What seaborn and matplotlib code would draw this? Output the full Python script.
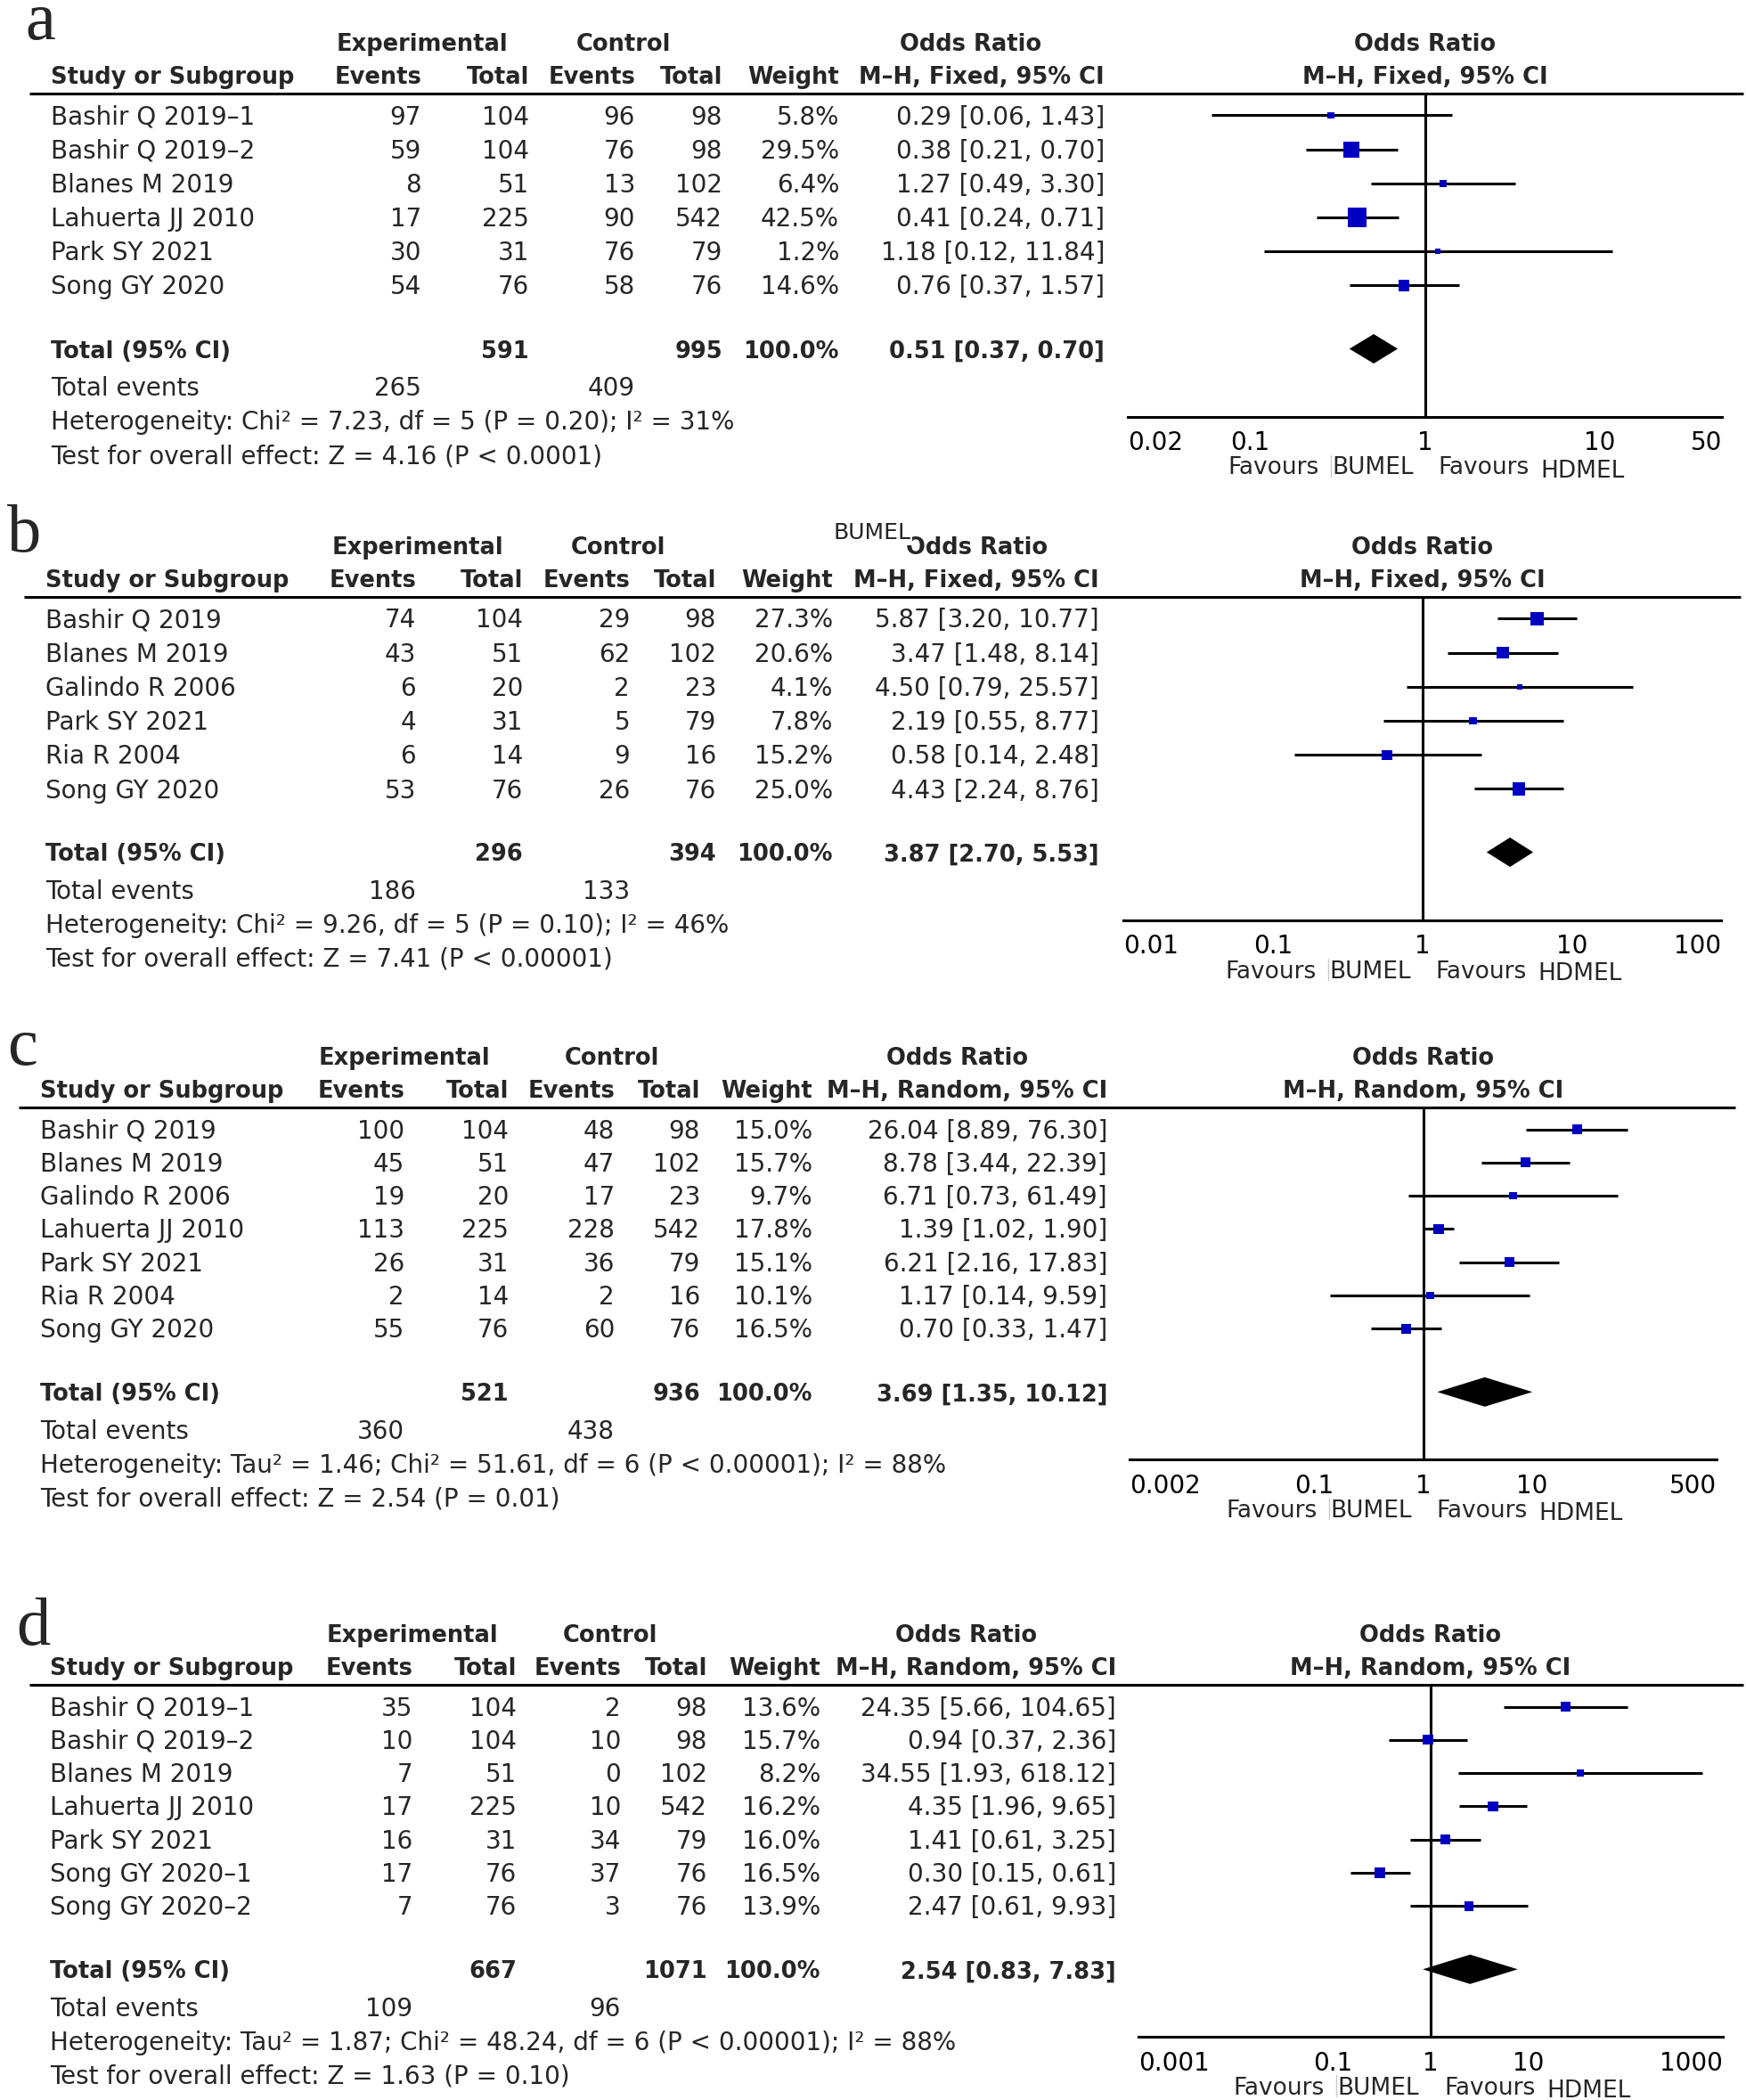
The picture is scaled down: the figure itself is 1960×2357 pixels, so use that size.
import numpy as np
import matplotlib
matplotlib.use("Agg")
import matplotlib.pyplot as plt
import seaborn as sns

# ---------------- data ----------------
# panel a
studies_a = ["Bashir Q 2019–1", "Bashir Q 2019–2", "Blanes M 2019", "Lahuerta JJ 2010", "Park SY 2021", "Song GY 2020"]
exp_ev_a = [97, 59, 8, 17, 30, 54]
exp_tot_a = [104, 104, 51, 225, 31, 76]
ctl_ev_a = [96, 76, 13, 90, 76, 58]
ctl_tot_a = [98, 98, 102, 542, 79, 76]
weight_a = [5.8, 29.5, 6.4, 42.5, 1.2, 14.6]
or_a = [0.29, 0.38, 1.27, 0.41, 1.18, 0.76]
lo_a = [0.06, 0.21, 0.49, 0.24, 0.12, 0.37]
hi_a = [1.43, 0.70, 3.30, 0.71, 11.84, 1.57]
tot_n_a = [591, 995]
tot_or_a = [0.51, 0.37, 0.70]
events_a = [265, 409]
het_a = "Heterogeneity: Chi² = 7.23, df = 5 (P = 0.20); I² = 31%"
test_a = "Test for overall effect: Z = 4.16 (P < 0.0001)"
ticks_a = [0.02, 0.1, 1, 10, 50]

# panel b
studies_b = ["Bashir Q 2019", "Blanes M 2019", "Galindo R 2006", "Park SY 2021", "Ria R 2004", "Song GY 2020"]
exp_ev_b = [74, 43, 6, 4, 6, 53]
exp_tot_b = [104, 51, 20, 31, 14, 76]
ctl_ev_b = [29, 62, 2, 5, 9, 26]
ctl_tot_b = [98, 102, 23, 79, 16, 76]
weight_b = [27.3, 20.6, 4.1, 7.8, 15.2, 25.0]
or_b = [5.87, 3.47, 4.50, 2.19, 0.58, 4.43]
lo_b = [3.20, 1.48, 0.79, 0.55, 0.14, 2.24]
hi_b = [10.77, 8.14, 25.57, 8.77, 2.48, 8.76]
tot_n_b = [296, 394]
tot_or_b = [3.87, 2.70, 5.53]
events_b = [186, 133]
het_b = "Heterogeneity: Chi² = 9.26, df = 5 (P = 0.10); I² = 46%"
test_b = "Test for overall effect: Z = 7.41 (P < 0.00001)"
ticks_b = [0.01, 0.1, 1, 10, 100]

# panel c
studies_c = ["Bashir Q 2019", "Blanes M 2019", "Galindo R 2006", "Lahuerta JJ 2010", "Park SY 2021", "Ria R 2004", "Song GY 2020"]
exp_ev_c = [100, 45, 19, 113, 26, 2, 55]
exp_tot_c = [104, 51, 20, 225, 31, 14, 76]
ctl_ev_c = [48, 47, 17, 228, 36, 2, 60]
ctl_tot_c = [98, 102, 23, 542, 79, 16, 76]
weight_c = [15.0, 15.7, 9.7, 17.8, 15.1, 10.1, 16.5]
or_c = [26.04, 8.78, 6.71, 1.39, 6.21, 1.17, 0.70]
lo_c = [8.89, 3.44, 0.73, 1.02, 2.16, 0.14, 0.33]
hi_c = [76.30, 22.39, 61.49, 1.90, 17.83, 9.59, 1.47]
tot_n_c = [521, 936]
tot_or_c = [3.69, 1.35, 10.12]
events_c = [360, 438]
het_c = "Heterogeneity: Tau² = 1.46; Chi² = 51.61, df = 6 (P < 0.00001); I² = 88%"
test_c = "Test for overall effect: Z = 2.54 (P = 0.01)"
ticks_c = [0.002, 0.1, 1, 10, 500]

# panel d
studies_d = ["Bashir Q 2019–1", "Bashir Q 2019–2", "Blanes M 2019", "Lahuerta JJ 2010", "Park SY 2021", "Song GY 2020–1", "Song GY 2020–2"]
exp_ev_d = [35, 10, 7, 17, 16, 17, 7]
exp_tot_d = [104, 104, 51, 225, 31, 76, 76]
ctl_ev_d = [2, 10, 0, 10, 34, 37, 3]
ctl_tot_d = [98, 98, 102, 542, 79, 76, 76]
weight_d = [13.6, 15.7, 8.2, 16.2, 16.0, 16.5, 13.9]
or_d = [24.35, 0.94, 34.55, 4.35, 1.41, 0.30, 2.47]
lo_d = [5.66, 0.37, 1.93, 1.96, 0.61, 0.15, 0.61]
hi_d = [104.65, 2.36, 618.12, 9.65, 3.25, 0.61, 9.93]
tot_n_d = [667, 1071]
tot_or_d = [2.54, 0.83, 7.83]
events_d = [109, 96]
het_d = "Heterogeneity: Tau² = 1.87; Chi² = 48.24, df = 6 (P < 0.00001); I² = 88%"
test_d = "Test for overall effect: Z = 1.63 (P = 0.10)"
ticks_d = [0.001, 0.1, 1, 10, 1000]

panels = [
    dict(tag="a", model="Fixed", study=studies_a, ee=exp_ev_a, et=exp_tot_a, ce=ctl_ev_a, ct=ctl_tot_a,
         w=weight_a, orr=or_a, lo=lo_a, hi=hi_a, tot=tot_n_a, tor=tot_or_a, ev=events_a,
         het=het_a, test=test_a, ticks=ticks_a),
    dict(tag="b", model="Fixed", study=studies_b, ee=exp_ev_b, et=exp_tot_b, ce=ctl_ev_b, ct=ctl_tot_b,
         w=weight_b, orr=or_b, lo=lo_b, hi=hi_b, tot=tot_n_b, tor=tot_or_b, ev=events_b,
         het=het_b, test=test_b, ticks=ticks_b),
    dict(tag="c", model="Random", study=studies_c, ee=exp_ev_c, et=exp_tot_c, ce=ctl_ev_c, ct=ctl_tot_c,
         w=weight_c, orr=or_c, lo=lo_c, hi=hi_c, tot=tot_n_c, tor=tot_or_c, ev=events_c,
         het=het_c, test=test_c, ticks=ticks_c),
    dict(tag="d", model="Random", study=studies_d, ee=exp_ev_d, et=exp_tot_d, ce=ctl_ev_d, ct=ctl_tot_d,
         w=weight_d, orr=or_d, lo=lo_d, hi=hi_d, tot=tot_n_d, tor=tot_or_d, ev=events_d,
         het=het_d, test=test_d, ticks=ticks_d),
]

# layout in pixels (figure is 1960 x 2357)
layouts = [
    dict(rule=105, step=38.2, sx=57, cols=[473, 594, 713, 811, 942, 1240], hdr=[474, 700, 1090],
         rx=(33, 1957), fx=(1266, 1933), lab=(28, 44), k=3.3),
    dict(rule=670, step=38.2, sx=51, cols=[467, 587, 707, 804, 935, 1234], hdr=[469, 694, 1097],
         rx=(27, 1954), fx=(1261, 1932), lab=(8, 619), k=2.95),
    dict(rule=1243, step=37.3, sx=45, cols=[454, 571, 690, 786, 912, 1243], hdr=[454, 687, 1075],
         rx=(21, 1948), fx=(1268, 1927), lab=(8, 1195), k=2.75),
    dict(rule=1891, step=37.3, sx=56, cols=[463, 580, 697, 794, 921, 1253], hdr=[463, 685, 1085],
         rx=(33, 1957), fx=(1278, 1934), lab=(18, 1846), k=2.83),
]

W, H = 1960, 2357
FS, FSB = 20, 18.5
BLUE = "#0000c0"

sns.set_style("white")
plt.rcParams["font.family"] = ["DejaVu Sans"]

fig = plt.figure(figsize=(W / 100, H / 100), dpi=100)
bg = fig.add_axes([0, 0, 1, 1])
bg.set_xlim(0, W)
bg.set_ylim(H, 0)
bg.axis("off")


def txt(x, y, s, ha="left", bold=False, size=None, **kw):
    bg.text(x, y + 10, s, ha=ha, va="baseline",
            fontsize=size or (FSB if bold else FS),
            fontweight="bold" if bold else "normal", **kw)


for p, L in zip(panels, layouts):
    rule = L["rule"]
    c = L["cols"]
    n = len(p["study"])
    rows_y = [rule + 24.5 + i * L["step"] for i in range(n)]
    tot_y = rows_y[-1] + 71
    ev_y = tot_y + 42.5
    het_y = tot_y + 80.5
    test_y = het_y + 38
    axis_y = het_y - 4.5

    # panel letter
    bg.text(L["lab"][0], L["lab"][1], p["tag"], fontsize=55, family="Liberation Serif",
            ha="left", va="baseline")

    # headers
    method = f"M–H, {p['model']}, 95% CI"
    txt(L["hdr"][0], rule - 58, "Experimental", ha="center", bold=True)
    txt(L["hdr"][1], rule - 58, "Control", ha="center", bold=True)
    txt(L["hdr"][2], rule - 58, "Odds Ratio", ha="center", bold=True)
    txt(L["sx"], rule - 21, "Study or Subgroup", bold=True)
    for x, s in zip(c, ["Events", "Total", "Events", "Total", "Weight", method]):
        txt(x, rule - 21, s, ha="right", bold=True)
    bg.plot(L["rx"], [rule, rule], color="black", lw=2.2, solid_capstyle="butt")

    # study rows
    for i, y in enumerate(rows_y):
        txt(L["sx"], y, p["study"][i])
        vals = [str(p["ee"][i]), str(p["et"][i]), str(p["ce"][i]), str(p["ct"][i]),
                f"{p['w'][i]:.1f}%",
                f"{p['orr'][i]:.2f} [{p['lo'][i]:.2f}, {p['hi'][i]:.2f}]"]
        for x, s in zip(c, vals):
            txt(x, y, s, ha="right")

    # totals
    txt(L["sx"], tot_y, "Total (95% CI)", bold=True)
    txt(c[1], tot_y, str(p["tot"][0]), ha="right", bold=True)
    txt(c[3], tot_y, str(p["tot"][1]), ha="right", bold=True)
    txt(c[4], tot_y, "100.0%", ha="right", bold=True)
    o, l, h = p["tor"]
    txt(c[5], tot_y, f"{o:.2f} [{l:.2f}, {h:.2f}]", ha="right", bold=True)
    txt(L["sx"], ev_y, "Total events")
    txt(c[0], ev_y, str(p["ev"][0]), ha="right")
    txt(c[2], ev_y, str(p["ev"][1]), ha="right")
    txt(L["sx"], het_y, p["het"])
    txt(L["sx"], test_y, p["test"])

    # forest plot
    x0, x1 = L["fx"]
    t = p["ticks"]
    ax = fig.add_axes([x0 / W, 1 - axis_y / H, (x1 - x0) / W, (axis_y - rule) / H])
    ax.set_facecolor("none")
    ax.set_xscale("log")
    ax.hlines(rows_y, p["lo"], p["hi"], color="black", lw=2.2, zorder=2)
    side = np.maximum(L["k"] * np.sqrt(p["w"]), 6.0) * 0.72
    sns.scatterplot(x=p["orr"], y=rows_y, s=side ** 2, marker="s", color=BLUE,
                    linewidth=0, ax=ax, legend=False, zorder=3)
    dh = 16.5
    ax.fill([l, o, h, o], [tot_y, tot_y - dh, tot_y, tot_y + dh], color="black", lw=0, zorder=3)
    ax.axvline(1, color="black", lw=2.2, zorder=1)
    ax.set_xlim(t[0], t[-1])
    ax.set_ylim(axis_y, rule)
    ax.set_xticks(t)
    ax.set_xticklabels([f"{v:g}" for v in t])
    ax.xaxis.set_minor_locator(matplotlib.ticker.NullLocator())
    ax.set_yticks([])
    ax.set_xlabel("")
    ax.set_ylabel("")
    for s in ["top", "left", "right"]:
        ax.spines[s].set_visible(False)
    ax.spines["bottom"].set_linewidth(2.2)
    ax.spines["bottom"].set_color("black")
    ax.tick_params(axis="x", direction="inout", length=16, width=2.2, labelsize=FS, pad=3,
                   colors="black")
    labs = ax.get_xticklabels()
    labs[0].set_ha("left")
    labs[-1].set_ha("right")

    # header over forest and favours labels
    vx = x0 + (x1 - x0) * (-np.log10(t[0])) / (np.log10(t[-1]) - np.log10(t[0]))
    txt(vx, rule - 58, "Odds Ratio", ha="center", bold=True)
    txt(vx, rule - 21, method, ha="center", bold=True)
    fy = axis_y + 55
    txt(vx - 119, fy, "Favours", ha="right", size=19)
    bg.plot([vx - 106, vx - 106], [fy - 12, fy + 12], color="#c8c8c8", lw=1)
    txt(vx - 13, fy, "BUMEL", ha="right", size=19)
    txt(vx + 15, fy, "Favours", ha="left", size=19)
    txt(vx + 130, fy + 3, "HDMEL", ha="left", size=19)

# stray label overlapping header in panel b
bg.text(935, 598, "BUMEL", fontsize=18, ha="left", va="center", zorder=5,
        bbox=dict(facecolor="white", edgecolor="none", pad=1))

fig.savefig("out.png", dpi=100, facecolor="white")
